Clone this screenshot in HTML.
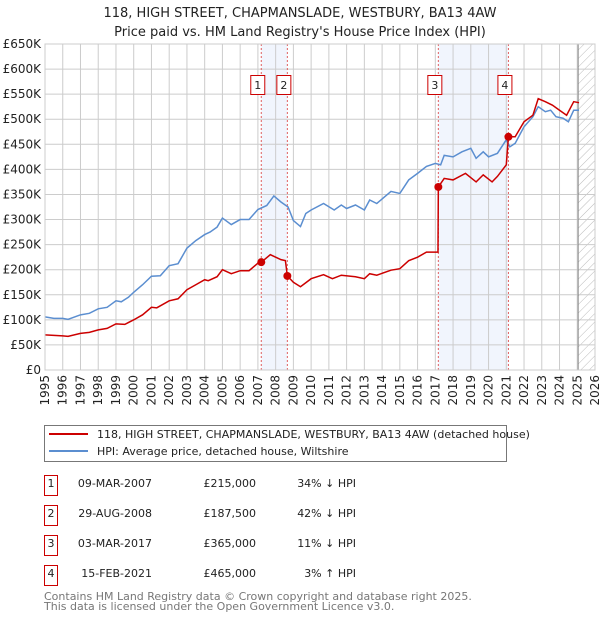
<!DOCTYPE html>
<html><head><meta charset="utf-8"><style>
body{margin:0;background:#fff;width:600px;height:620px;overflow:hidden;font-family:"DejaVu Sans","Liberation Sans",sans-serif}
svg text{font-family:"DejaVu Sans","Liberation Sans",sans-serif}
</style></head><body>
<svg id="chart" width="600" height="620" xmlns="http://www.w3.org/2000/svg">
<defs><pattern id="hatch" width="6" height="6" patternUnits="userSpaceOnUse" patternTransform="rotate(45)"><line x1="0" y1="0" x2="0" y2="6" stroke="#bbb" stroke-width="1"/></pattern></defs>
<text x="300" y="17" text-anchor="middle" font-size="13" fill="#222">118, HIGH STREET, CHAPMANSLADE, WESTBURY, BA13 4AW</text>
<text x="300" y="36" text-anchor="middle" font-size="13" fill="#222">Price paid vs. HM Land Registry's House Price Index (HPI)</text>
<g id="plot"></g>
<g>
<rect x="44.5" y="425.5" width="462" height="36" fill="#fff" stroke="#777"/>
<line x1="49" y1="434" x2="88" y2="434" stroke="#cc0000" stroke-width="2"/>
<text x="97" y="438" font-size="11" fill="#222">118, HIGH STREET, CHAPMANSLADE, WESTBURY, BA13 4AW (detached house)</text>
<line x1="49" y1="451" x2="88" y2="451" stroke="#5b8ed0" stroke-width="2"/>
<text x="97" y="455" font-size="11" fill="#222">HPI: Average price, detached house, Wiltshire</text>
</g>
<g id="table" font-size="11" fill="#222"></g>
<text x="44" y="600" font-size="11" fill="#777">Contains HM Land Registry data © Crown copyright and database right 2025.</text>
<text x="44" y="610" font-size="11" fill="#777">This data is licensed under the Open Government Licence v3.0.</text>
</svg>
<script>
const hpiYears=[1995,1995.5,1996,1996.3,1997,1997.5,1998,1998.5,1999,1999.3,1999.7,2000,2000.5,2001,2001.5,2002,2002.5,2003,2003.5,2004,2004.3,2004.7,2005,2005.5,2006,2006.5,2007,2007.5,2007.9,2008.3,2008.7,2009,2009.4,2009.7,2010,2010.7,2011.3,2011.7,2012,2012.5,2013,2013.3,2013.7,2014.5,2015,2015.5,2016,2016.5,2017,2017.3,2017.5,2018,2018.5,2019,2019.3,2019.7,2020,2020.5,2021,2021.2,2021.5,2022,2022.5,2022.8,2023.2,2023.5,2023.8,2024.2,2024.5,2024.8,2025.1];
const hpiValues=[106,103,103,101,110,113,122,125,138,136,145,155,170,187,188,208,212,243,258,270,275,285,303,290,300,300,320,328,347,335,325,298,286,312,319,332,319,329,322,329,319,339,332,356,352,379,392,406,412,409,428,425,435,442,422,435,425,432,459,445,452,485,505,525,515,518,505,502,495,518,518];
const propYears=[1995,1996,1996.3,1997,1997.5,1998,1998.5,1999,1999.5,2000,2000.5,2001,2001.3,2002,2002.5,2003,2003.5,2004,2004.2,2004.7,2005,2005.5,2006,2006.5,2007,2007.19,2007.7,2008.3,2008.55,2008.66,2009,2009.4,2010,2010.7,2011.2,2011.7,2012.5,2013,2013.3,2013.7,2014.5,2015,2015.5,2016,2016.5,2017.15,2017.17,2017.5,2018,2018.7,2019.3,2019.7,2020.2,2020.5,2021.0,2021.12,2021.5,2022,2022.5,2022.8,2023.2,2023.6,2024,2024.4,2024.8,2025.1];
const propValues=[70,68,67,73,75,80,83,92,91,100,110,125,124,138,142,160,170,180,178,186,200,192,198,198,213,215,230,220,218,187.5,175,166,182,190,182,189,186,182,192,189,199,202,218,225,235,235,365,382,379,392,375,389,375,386,409,465,465,495,508,541,535,528,518,508,535,533];
const saleIds=["1","2","3","4"];
const saleYears=[2007.19,2008.66,2017.17,2021.12];
const saleValues=[215,187.5,365,465];
const saleDates=["09-MAR-2007","29-AUG-2008","03-MAR-2017","15-FEB-2021"];
const salePrices=["£215,000","£187,500","£365,000","£465,000"];
const saleHpi=["34% ↓ HPI","42% ↓ HPI","11% ↓ HPI","3% ↑ HPI"];
const yTicks=[0,50,100,150,200,250,300,350,400,450,500,550,600,650];
const yTickLabels=["£0","£50K","£100K","£150K","£200K","£250K","£300K","£350K","£400K","£450K","£500K","£550K","£600K","£650K"];
const xTicks=[1995,1996,1997,1998,1999,2000,2001,2002,2003,2004,2005,2006,2007,2008,2009,2010,2011,2012,2013,2014,2015,2016,2017,2018,2019,2020,2021,2022,2023,2024,2025,2026];
const shadeStart=[2007.19,2017.17];
const shadeEnd=[2008.66,2021.12];
const dataEnd=2025.05;

const L=45,R=595,T=44,B=370;
const xs=y=>L+(y-1995)/(2026-1995)*(R-L);
const ys=v=>B-v/650*(B-T);
const NS="http://www.w3.org/2000/svg";
const plot=document.getElementById('plot');
function mk(tag,attrs,parent){const e=document.createElementNS(NS,tag);for(const k in attrs)e.setAttribute(k,attrs[k]);(parent||plot).appendChild(e);return e;}
mk('rect',{x:L,y:T,width:R-L,height:B-T,fill:'#fff'});
for(let i=0;i<shadeStart.length;i++){
 const r=mk('rect',{x:xs(shadeStart[i]),y:T,width:xs(shadeEnd[i])-xs(shadeStart[i]),height:B-T,fill:'#eef3fc',opacity:0.8});
 
 
}
const h=mk('rect',{x:xs(dataEnd),y:T,width:R-xs(dataEnd),height:B-T,fill:'url(#hatch)'});


yTicks.forEach((v,i)=>{
 mk('line',{x1:L,x2:R,y1:ys(v),y2:ys(v),stroke:'#ccc','stroke-width':1});
 const t=mk('text',{x:L-4,y:ys(v)+4,'text-anchor':'end','font-size':12,fill:'#222'});t.textContent=yTickLabels[i];
 
 
});
xTicks.forEach(yr=>{
 mk('line',{x1:xs(yr),x2:xs(yr),y1:T,y2:B,stroke:'#ccc','stroke-width':1});
 const t=mk('text',{x:0,y:0,'text-anchor':'end','font-size':12,fill:'#222',transform:`translate(${xs(yr)+4},375) rotate(-90)`});t.textContent=yr;
 
 
});
const el=mk('line',{x1:xs(dataEnd),x2:xs(dataEnd),y1:T,y2:B,stroke:'#888','stroke-width':1});


saleYears.forEach(yr=>{
 const l=mk('line',{x1:xs(yr),x2:xs(yr),y1:T,y2:B,stroke:'#e06060','stroke-width':1,'stroke-dasharray':'2,2'});
 
 
});
const hp=mk('polyline',{points:hpiYears.map((y,i)=>xs(y)+','+ys(hpiValues[i])).join(' '),fill:'none',stroke:'#5b8ed0','stroke-width':1.5});


const pp=mk('polyline',{points:propYears.map((y,i)=>xs(y)+','+ys(propValues[i])).join(' '),fill:'none',stroke:'#cc0000','stroke-width':1.5});


saleYears.forEach((yr,i)=>{
 const c=mk('circle',{cx:xs(yr),cy:ys(saleValues[i]),r:4,fill:'#cc0000'});
 
 
 const g=mk('g',{});
 
 
 mk('rect',{x:xs(yr)-10.5,y:75.5,width:14,height:19,fill:'#fff',stroke:'#cc0000'},g);
 const t=mk('text',{x:xs(yr)-3.5,y:89,'text-anchor':'middle','font-size':11,fill:'#222'},g);t.textContent=saleIds[i];
});
mk('rect',{x:L,y:T,width:R-L,height:B-T,fill:'none',stroke:'#ccc'});
const tb=document.getElementById('table');
saleIds.forEach((id,i)=>{
 const y=487+i*30;
 const g=mk('g',{},tb);
 
 
 mk('rect',{x:44.5,y:y-11.5,width:13,height:20,fill:'#fff',stroke:'#cc0000'},g);
 const a=mk('text',{x:51,y:y,'text-anchor':'middle'},g);a.textContent=id;
 const b=mk('text',{x:152,y:y,'text-anchor':'end'},g);b.textContent=saleDates[i];
 const c=mk('text',{x:256,y:y,'text-anchor':'end'},g);c.textContent=salePrices[i];
 const d=mk('text',{x:356,y:y,'text-anchor':'end'},g);d.textContent=saleHpi[i];
});
</script>
</body></html>
